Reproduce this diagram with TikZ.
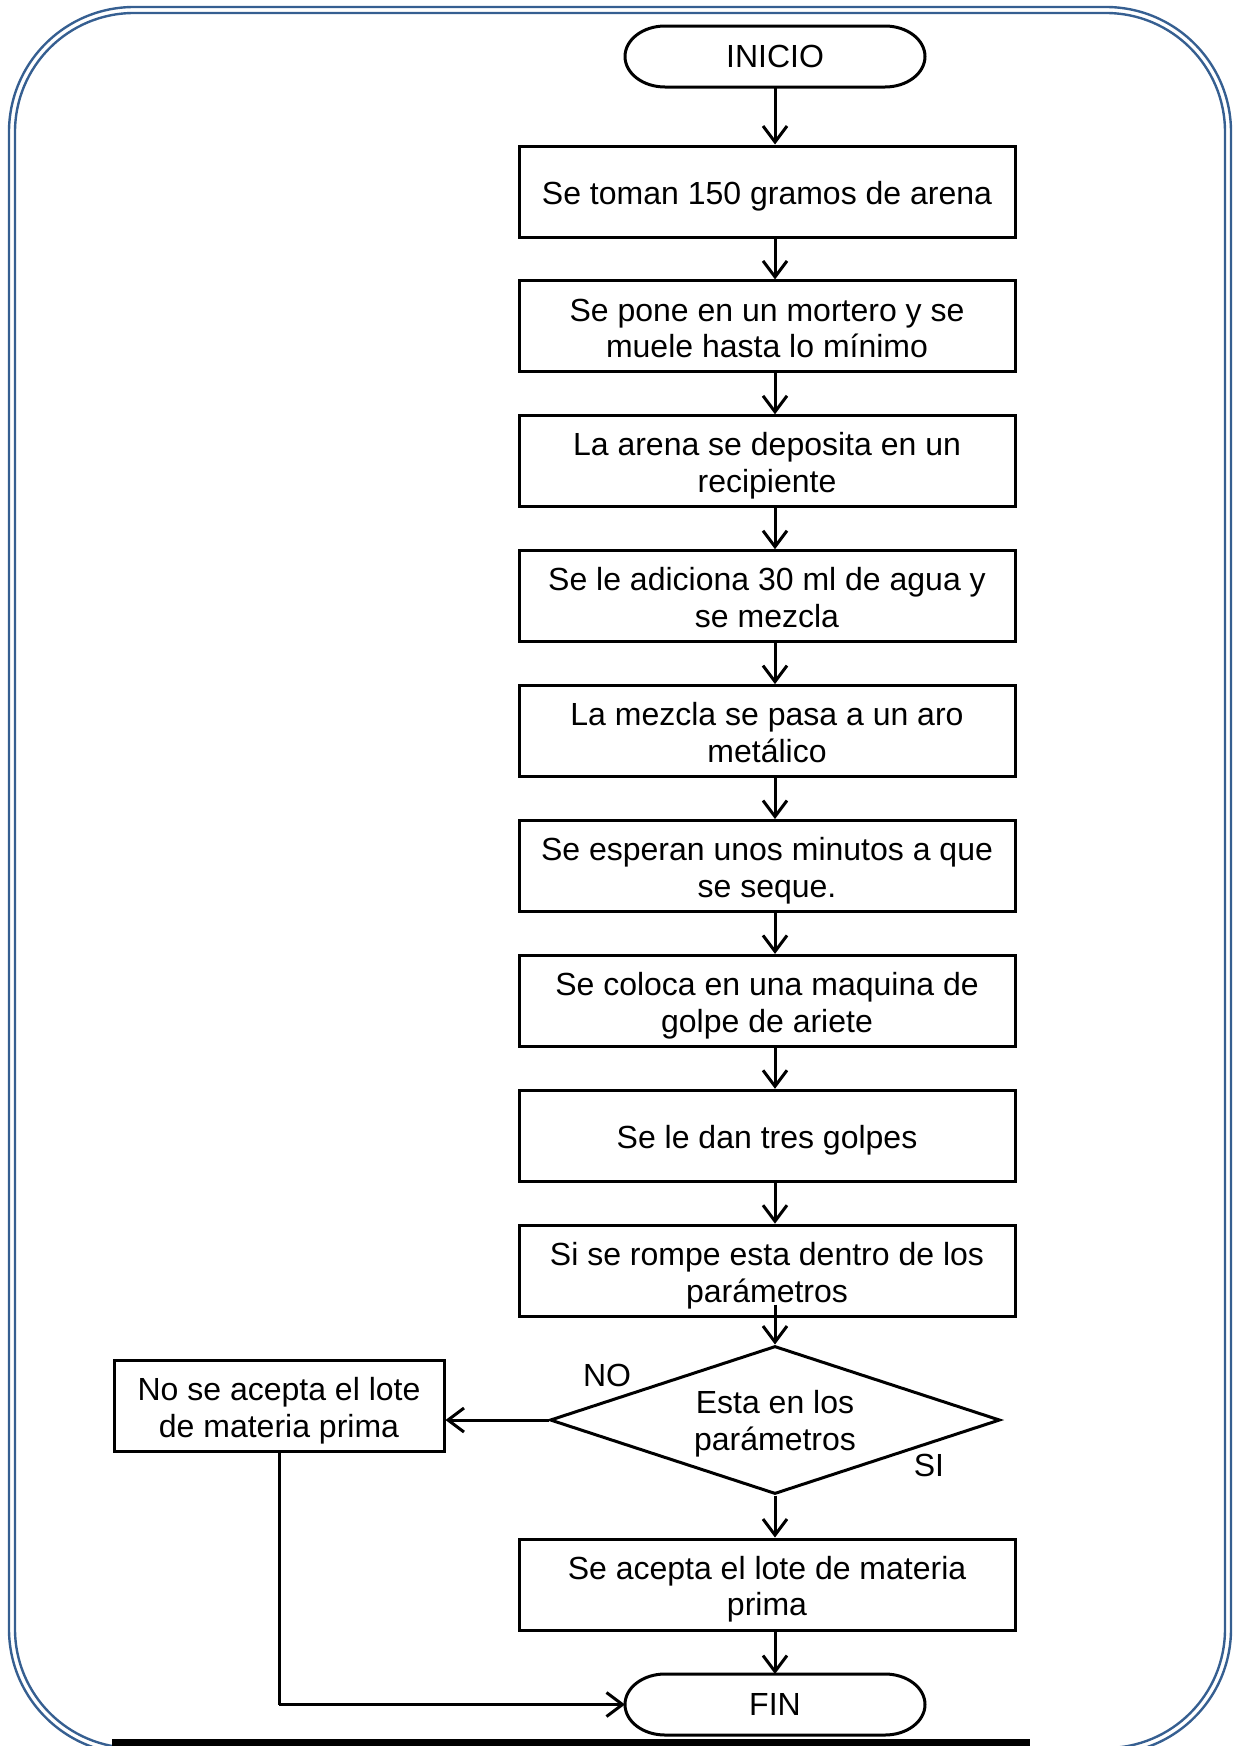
\documentclass[tikz,border=0pt]{standalone}
\usepackage{fontspec}
\setmainfont{Liberation Sans}
\usetikzlibrary{arrows.meta,shapes.geometric}
\definecolor{frameblue}{RGB}{54,95,145}
\begin{document}
\begin{tikzpicture}[x=1pt,y=-1pt,
  txt/.style={font=\fontsize{32}{36.7}\selectfont, inner sep=0pt, align=center},
  oneline/.style={text height=32pt, text depth=6.7pt},
  twoline/.style={text height=69.3pt, text depth=6.7pt},
  stepbox/.style={txt, draw, line width=3pt, minimum width=496pt, minimum height=91pt},
  termbox/.style={txt, outer sep=0pt, minimum width=300pt, minimum height=61pt},
  termline/.style={line width=3pt},
  decision/.style={draw, diamond, line width=3pt, inner sep=0pt,
    minimum width=450pt, minimum height=148pt},
  flow/.style={line width=3pt, -{Straight Barb[length=16pt,width=24pt,line width=3pt]}},
  link/.style={line width=3pt},
  frameline/.style={draw=frameblue, line width=2.4pt}
  ]
\useasboundingbox (0,0) rectangle (1235,1746);

% page frame: two thin blue rounded outlines
\draw[frameline, rounded corners=125pt] (9,7) rectangle (1231,1754);
\draw[frameline, rounded corners=119pt] (15,13) rectangle (1225,1748);

% heavy rule at the foot of the page
\fill (112,1739) rectangle (1030,1747);

% column of arrows
\coordinate (ax) at (775,0);

% terminals with elliptical ends
\node[termbox] (inicio) at (775,56.5) {INICIO};
\node[termbox] (fin) at (775,1704.5) {FIN};
\foreach \t in {inicio,fin}{
  \draw[termline] ([xshift=40pt]\t.north west) -- ([xshift=-40pt]\t.north east)
    arc[start angle=90,end angle=-90,x radius=40pt,y radius=30.5pt]
    -- ([xshift=40pt]\t.south west)
    arc[start angle=270,end angle=90,x radius=40pt,y radius=30.5pt] -- cycle;
}

% process steps
\node[stepbox, oneline] (b1) at (767,191.5) {Se toman 150 gramos de arena};
\node[stepbox, twoline] (b2) at (767,326.4) {Se pone en un mortero y se\\muele hasta lo mínimo};
\node[stepbox, twoline] (b3) at (767,461.3) {La arena se deposita en un\\recipiente};
\node[stepbox, twoline] (b4) at (767,596.2) {Se le adiciona 30 ml de agua y\\se mezcla};
\node[stepbox, twoline] (b5) at (767,731.1) {La mezcla se pasa a un aro\\metálico};
\node[stepbox, twoline] (b6) at (767,866.0) {Se esperan unos minutos a que\\se seque.};
\node[stepbox, twoline] (b7) at (767,1000.9) {Se coloca en una maquina de\\golpe de ariete};
\node[stepbox, oneline] (b8) at (767,1135.8) {Se le dan tres golpes};
\node[stepbox, twoline] (b9) at (767,1270.7) {Si se rompe esta dentro de los\\parámetros};

% decision and outcomes
\node[decision] (dia) at (775,1420) {};
\node[txt] (diatext) at ([yshift=-4pt]dia.center) {Esta en los\\parámetros};
\node[stepbox, twoline] (acc) at (767,1584.5) {Se acepta el lote de materia\\prima};
\node[stepbox, twoline, minimum width=330pt] (rej) at (279,1406) {No se acepta el lote\\de materia prima};

\node[txt] (no) at (607,1375) {NO};
\node[txt] (si) at (929,1465) {SI};

% connectors
\draw[flow] (inicio.south) -- (b1.north -| ax);
\foreach \a/\b in {b1/b2,b2/b3,b3/b4,b4/b5,b5/b6,b6/b7,b7/b8,b8/b9}{
  \draw[flow] (\a.south -| ax) -- (\b.north -| ax);
}
\draw[flow] ([yshift=13pt]b9.south -| ax) -- (dia.north);
\draw[flow] (dia.west) -- (dia.west -| rej.east);
\draw[flow] (dia.south) -- (acc.north -| ax);
\draw[flow] (acc.south -| ax) -- (fin.north);
\draw[link] (rej.south) -- (rej.south |- fin.west);
\draw[flow] (rej.south |- fin.west) -- (fin.west);
\end{tikzpicture}
\end{document}
